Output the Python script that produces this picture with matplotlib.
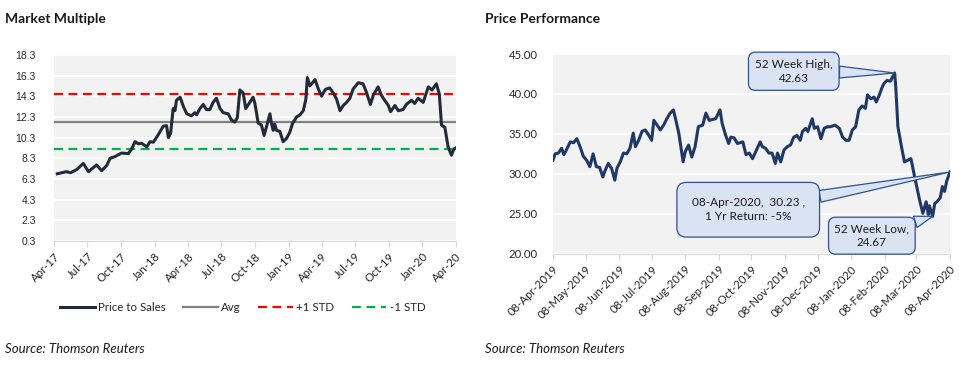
import numpy as np
import pandas as pd
import matplotlib
matplotlib.use("Agg")
import matplotlib.pyplot as plt
import matplotlib.dates as mdates

# ---- Market Multiple data (price to sales) ----
pts_dates = [
    "2017-04-10", "2017-05-05", "2017-05-16", "2017-06-02", "2017-06-20", "2017-07-04",
    "2017-07-26", "2017-08-09", "2017-08-23", "2017-09-01", "2017-09-14", "2017-10-02",
    "2017-10-21", "2017-10-30", "2017-11-08", "2017-11-17", "2017-11-26", "2017-12-10",
    "2017-12-19", "2017-12-28", "2018-01-10", "2018-01-24", "2018-02-02", "2018-02-07",
    "2018-02-13", "2018-02-20", "2018-02-25", "2018-03-01", "2018-03-11", "2018-03-20",
    "2018-03-29", "2018-04-11", "2018-04-20", "2018-04-25", "2018-05-04", "2018-05-13",
    "2018-05-22", "2018-05-31", "2018-06-09", "2018-06-18", "2018-06-28", "2018-07-07",
    "2018-07-20", "2018-07-29", "2018-08-07", "2018-08-14", "2018-08-21", "2018-08-30",
    "2018-09-06", "2018-09-17", "2018-09-26", "2018-10-01", "2018-10-10", "2018-10-19",
    "2018-10-26", "2018-11-02", "2018-11-11", "2018-11-15", "2018-11-20", "2018-11-24",
    "2018-11-29", "2018-12-08", "2018-12-17", "2018-12-26", "2019-01-04", "2019-01-12",
    "2019-01-23", "2019-02-01", "2019-02-10", "2019-02-17", "2019-02-21", "2019-02-28",
    "2019-03-14", "2019-03-23", "2019-04-01", "2019-04-10", "2019-04-14", "2019-04-23",
    "2019-05-03", "2019-05-12", "2019-05-21", "2019-05-30", "2019-06-08", "2019-06-17",
    "2019-06-26", "2019-07-10", "2019-07-23", "2019-08-01", "2019-08-12", "2019-08-20",
    "2019-09-02", "2019-09-11", "2019-09-20", "2019-09-30", "2019-10-06", "2019-10-18",
    "2019-10-27", "2019-11-09", "2019-11-18", "2019-12-02", "2019-12-11", "2019-12-20",
    "2020-01-03", "2020-01-17", "2020-01-27", "2020-02-08", "2020-02-16", "2020-02-22",
    "2020-03-02", "2020-03-11", "2020-03-20", "2020-03-27", "2020-04-01",
]
pts_values = [
    6.8, 7.0, 6.9, 7.2, 7.8, 7.0,
    7.65, 7.1, 7.6, 8.3, 8.45, 8.8,
    8.75, 9.2, 9.9, 9.7, 9.75, 9.4,
    9.9, 9.85, 10.55, 11.4, 11.45, 10.3,
    10.7, 13.1, 12.9, 13.9, 14.2, 13.3,
    12.6, 12.4, 12.7, 12.5, 13.1, 13.5,
    13.0, 13.0, 13.7, 14.1, 13.1, 12.7,
    12.6, 12.0, 11.8, 12.2, 14.9, 14.6,
    13.1, 13.7, 14.2, 13.6, 11.7, 11.5,
    10.5, 11.4, 12.6, 11.7, 11.0, 11.6,
    11.0, 10.9, 9.9, 10.2, 10.8, 11.7,
    12.3, 12.5, 12.9, 14.0, 16.1, 15.3,
    15.9, 15.0, 14.3, 14.9, 15.0, 15.1,
    14.6, 14.0, 12.9, 13.4, 13.7, 14.1,
    15.0, 15.6, 15.5, 14.7, 13.5, 14.4,
    15.2, 14.4, 13.9, 13.4, 12.8, 13.4,
    12.9, 13.0, 13.5, 13.9, 13.6, 14.1,
    13.7, 15.2, 14.9, 15.5, 14.5, 11.5,
    11.3, 9.4, 8.6, 9.2, 9.3,
]
pts_avg = 11.8
pts_plus_std = 14.5
pts_minus_std = 9.2
mm_yticks = [0.3, 2.3, 4.3, 6.3, 8.3, 10.3, 12.3, 14.3, 16.3, 18.3]

# ---- Price Performance data ----
px_dates = [
    "2019-04-08", "2019-04-10", "2019-04-13", "2019-04-16", "2019-04-18", "2019-04-20",
    "2019-04-24", "2019-04-27", "2019-04-30", "2019-05-03", "2019-05-06", "2019-05-09",
    "2019-05-12", "2019-05-15", "2019-05-18", "2019-05-21", "2019-05-24", "2019-05-26",
    "2019-05-29", "2019-06-01", "2019-06-04", "2019-06-06", "2019-06-09", "2019-06-12",
    "2019-06-15", "2019-06-18", "2019-06-21", "2019-06-23", "2019-06-26", "2019-06-29",
    "2019-07-02", "2019-07-05", "2019-07-08", "2019-07-10", "2019-07-13", "2019-07-16",
    "2019-07-19", "2019-07-22", "2019-07-25", "2019-07-28", "2019-07-30", "2019-08-02",
    "2019-08-06", "2019-08-08", "2019-08-11", "2019-08-14", "2019-08-17", "2019-08-20",
    "2019-08-24", "2019-08-27", "2019-08-30", "2019-09-02", "2019-09-05", "2019-09-09",
    "2019-09-11", "2019-09-14", "2019-09-17", "2019-09-19", "2019-09-22", "2019-09-25",
    "2019-09-30", "2019-10-03", "2019-10-06", "2019-10-09", "2019-10-12", "2019-10-16",
    "2019-10-18", "2019-10-21", "2019-10-24", "2019-10-27", "2019-10-30", "2019-11-01",
    "2019-11-04", "2019-11-07", "2019-11-10", "2019-11-13", "2019-11-16", "2019-11-19",
    "2019-11-22", "2019-11-24", "2019-11-27", "2019-11-29", "2019-12-03", "2019-12-05",
    "2019-12-08", "2019-12-11", "2019-12-14", "2019-12-17", "2019-12-20", "2019-12-24",
    "2019-12-28", "2019-12-31", "2020-01-03", "2020-01-06", "2020-01-09", "2020-01-12",
    "2020-01-15", "2020-01-18", "2020-01-21", "2020-01-23", "2020-01-26", "2020-01-29",
    "2020-01-31", "2020-02-03", "2020-02-05", "2020-02-07", "2020-02-10", "2020-02-13",
    "2020-02-17", "2020-02-18", "2020-02-20", "2020-02-23", "2020-02-26", "2020-02-29",
    "2020-03-03", "2020-03-06", "2020-03-09", "2020-03-11", "2020-03-14", "2020-03-17",
    "2020-03-19", "2020-03-20", "2020-03-23", "2020-03-25", "2020-03-27", "2020-03-30",
    "2020-04-01", "2020-04-03", "2020-04-05", "2020-04-08",
]
px_values = [
    31.7, 32.5, 32.6, 33.2, 32.4, 32.9,
    34.0, 33.9, 34.4, 33.4, 32.2, 31.7,
    30.9, 32.5, 30.9, 30.8, 29.6, 30.4,
    31.3, 30.7, 29.2, 30.7, 31.5, 32.6,
    32.5, 33.2, 35.1, 33.4, 34.2, 35.3,
    35.5, 34.9, 34.2, 36.7, 36.1, 35.5,
    36.1, 36.9, 37.6, 38.0, 36.9, 35.1,
    31.5, 32.8, 33.6, 32.1, 33.4, 35.9,
    36.1, 37.6, 36.7, 36.8, 36.9, 38.0,
    36.3, 34.9, 33.8, 34.6, 34.5, 33.8,
    34.0, 32.4, 32.6, 31.9, 32.8, 34.0,
    33.4, 33.2, 32.6, 32.6, 31.3, 32.6,
    31.5, 33.0, 33.4, 33.6, 34.6, 34.8,
    34.2, 35.3, 35.7, 35.3, 36.9, 35.7,
    35.9, 34.4, 35.7, 35.9, 35.9, 36.1,
    35.7, 34.6, 34.2, 34.2, 35.5, 35.9,
    38.0, 38.5, 38.2, 39.9, 39.4, 39.6,
    39.0, 39.9, 40.7, 41.3, 41.7, 41.6,
    42.63, 40.9, 35.9, 33.6, 31.5, 31.7,
    31.9, 29.9, 28.0, 26.7, 25.05, 26.5,
    24.9, 26.0, 24.67, 26.3, 26.5, 27.0,
    28.4, 27.8, 29.1, 30.23,
]
pp_yticks = [20, 25, 30, 35, 40, 45]

high_label = "52 Week High,\n42.63"
low_label = "52 Week Low,\n24.67"
last_label = "08-Apr-2020,  30.23 ,\n1 Yr Return: -5%"

BG = "#F2F2F2"
CALL_FC = "#DAE3F3"
CALL_EC = "#2F528F"
SANS = ["Lato", "DejaVu Sans"]
ARIAL = ["Liberation Sans", "DejaVu Sans"]

fig = plt.figure(figsize=(9.59, 3.73), dpi=100)

# ---------------- Market Multiple ----------------
ax1 = fig.add_axes([0.0563, 0.354, 0.419, 0.499])
ax1.set_facecolor(BG)
d1 = pd.to_datetime(pts_dates)
ax1.plot(d1, pts_values, color="#232B38", lw=2.2, label="Price to Sales", zorder=4)
ax1.axhline(pts_avg, color="#808080", lw=1.6, label="Avg", zorder=3)
ax1.axhline(pts_plus_std, color="#FF0000", lw=1.6, ls=(0, (4, 2.5)), label="+1 STD", zorder=3)
ax1.axhline(pts_minus_std, color="#00B050", lw=1.6, ls=(0, (4, 2.5)), label="-1 STD", zorder=3)
ax1.set_ylim(0.3, 18.3)
ax1.set_xlim(pd.Timestamp("2017-04-01"), pd.Timestamp("2020-04-01"))
ax1.set_yticks(mm_yticks)
ax1.set_yticklabels(["%.1f" % v for v in mm_yticks], fontsize=7.5, family=ARIAL, color="#262626")
ax1.yaxis.grid(True, color="white", lw=1.2)
ax1.set_axisbelow(True)
ax1.xaxis.set_major_locator(mdates.MonthLocator(bymonth=[1, 4, 7, 10]))
ax1.xaxis.set_major_formatter(mdates.DateFormatter("%b-%y"))
for lab in ax1.get_xticklabels():
    lab.set_rotation(45)
    lab.set_ha("right")
    lab.set_rotation_mode("anchor")
    lab.set_fontsize(8.2)
    lab.set_family(SANS)
    lab.set_color("#262626")
ax1.tick_params(axis="y", length=0, pad=13)
ax1.tick_params(axis="x", length=4, color="#D9D9D9", pad=3)
for s in ["top", "right", "left"]:
    ax1.spines[s].set_visible(False)
ax1.spines["bottom"].set_color("#D9D9D9")
leg = ax1.legend(loc="upper center", bbox_to_anchor=(0.47, -0.27), ncol=4, frameon=False,
                 prop={"family": SANS, "size": 8.3}, handlelength=3.0, columnspacing=1.5,
                 handletextpad=0.3)
for t in leg.get_texts():
    t.set_color("#262626")

# ---------------- Price Performance ----------------
ax2 = fig.add_axes([0.5766, 0.320, 0.414, 0.535])
ax2.set_facecolor(BG)
d2 = pd.to_datetime(px_dates)
ax2.plot(d2, px_values, color="#203864", lw=2.2, zorder=4)
ax2.set_ylim(20, 45)
ax2.set_xlim(pd.Timestamp("2019-04-08"), pd.Timestamp("2020-04-08"))
ax2.set_yticks(pp_yticks)
ax2.set_yticklabels(["%.2f" % v for v in pp_yticks], fontsize=8.2, family=SANS, color="#262626")
ax2.yaxis.grid(True, color="white", lw=1.2)
ax2.set_axisbelow(True)
ax2.xaxis.set_major_locator(mdates.MonthLocator(bymonthday=8))
ax2.xaxis.set_major_formatter(mdates.DateFormatter("%d-%b-%Y"))
for lab in ax2.get_xticklabels():
    lab.set_rotation(45)
    lab.set_ha("right")
    lab.set_rotation_mode("anchor")
    lab.set_fontsize(8.2)
    lab.set_family(SANS)
    lab.set_color("#262626")
ax2.tick_params(axis="y", length=0, pad=11)
ax2.tick_params(axis="x", length=4, color="#D9D9D9", pad=3)
for s in ["top", "right", "left"]:
    ax2.spines[s].set_visible(False)
ax2.spines["bottom"].set_color("#D9D9D9")

# callouts
i_hi = int(np.argmax(px_values))
i_lo = int(np.argmin(px_values))
i_last = len(px_values) - 1
callouts = [
    (high_label, d2[i_hi], px_values[i_hi], pd.Timestamp("2019-11-16"), 42.85, "round,pad=0.55,rounding_size=0.6"),
    (low_label, d2[i_lo], px_values[i_lo], pd.Timestamp("2020-01-27"), 22.25, "round,pad=0.5,rounding_size=0.6"),
    (last_label, d2[i_last], px_values[i_last], pd.Timestamp("2019-10-05"), 25.5, "round,pad=1.25,rounding_size=0.8"),
]
for txt, xd, yv, tx, ty, bs in callouts:
    ax2.annotate(txt, xy=(mdates.date2num(xd), yv), xytext=(mdates.date2num(tx), ty),
                 textcoords="data", ha="center", va="center", fontsize=8.5, family=SANS,
                 color="#1a1a1a", zorder=6, annotation_clip=False, linespacing=1.35,
                 bbox=dict(boxstyle=bs, fc=CALL_FC, ec=CALL_EC, lw=0.9),
                 arrowprops=dict(arrowstyle="wedge,tail_width=1.0,shrink_factor=0.5",
                                 fc=CALL_FC, ec=CALL_EC, lw=0.9, shrinkA=0, shrinkB=0))

# titles and sources
fig.text(0.005, 0.948, "Market Multiple", fontsize=10, fontweight="bold", family=SANS,
         color="#1a1a1a", va="center")
fig.text(0.506, 0.948, "Price Performance", fontsize=10, fontweight="bold", family=SANS,
         color="#1a1a1a", va="center")
fig.text(0.005, 0.064, "Source: Thomson Reuters", fontsize=9.5, style="italic", family=SANS,
         color="#1a1a1a", va="center")
fig.text(0.506, 0.064, "Source: Thomson Reuters", fontsize=9.5, style="italic", family=SANS,
         color="#1a1a1a", va="center")

fig.savefig("out.png", dpi=100)
